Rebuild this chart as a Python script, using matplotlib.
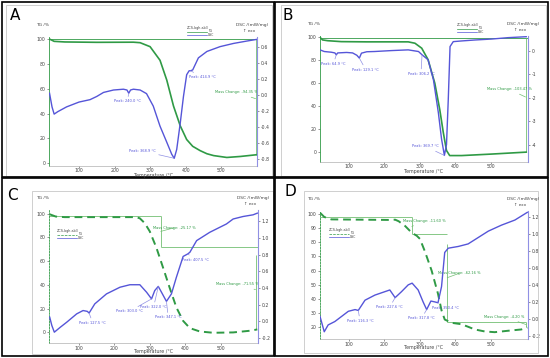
import matplotlib
matplotlib.use("Agg")
import matplotlib.pyplot as plt
from matplotlib.patches import Rectangle
from matplotlib.lines import Line2D

W, H = 550, 358
TG_GREEN = "#2f9a45"
DSC_BLUE = "#5555d8"
ANN_GREEN = "#72bf72"
ANN_BLUE = "#9090e4"
TXT_GRAY = "#444444"
LEGEND_NAME = "ZCS-bgh.ab3"

# ---- panel A: TG (%) and DSC (mW/mg) vs temperature (degC)
a_tg_t = [18, 30, 60, 150, 253, 272, 300, 328, 347, 366, 385, 403, 420, 441, 460, 479, 516, 554, 600]
a_tg = [100, 98.3, 97.8, 97.5, 97.6, 97.2, 94, 83, 67, 46, 30, 19, 13.5, 10, 7.5, 6, 4.5, 5.3, 6.7]
a_dsc_t = [17, 24, 30, 40, 65, 100, 131, 150, 169, 197, 225, 235, 240, 245, 253, 272, 290, 309, 328,
           347, 361, 368, 375, 385, 394, 403, 410, 414, 420, 436, 460, 497, 535, 573, 600]
a_dsc = [0.02, -0.15, -0.24, -0.21, -0.15, -0.09, -0.06, -0.02, 0.03, 0.06, 0.07, 0.06, 0.02, 0.06,
         0.07, 0.06, 0.015, -0.14, -0.39, -0.59, -0.74, -0.79, -0.68, -0.35, -0.02, 0.25, 0.30, 0.30,
         0.31, 0.46, 0.54, 0.60, 0.64, 0.67, 0.69]
a_peaks = ["Peak: 240.0 °C", "Peak: 368.9 °C", "Peak: 414.9 °C"]
a_mass = ["Mass Change: -94.35 %"]

# ---- panel B
b_tg_t = [18, 25, 40, 78, 150, 267, 286, 305, 323, 342, 356, 366, 375, 384, 418, 502, 600]
b_tg = [100, 97.7, 97.0, 96.2, 96.0, 96.0, 94.8, 90.5, 80.5, 60, 37, 17, 1.4, -3, -3, -1.7, 0]
b_dsc_t = [18, 30, 50, 60, 64, 68, 93, 110, 122, 129, 135, 150, 172, 220, 267, 296, 306, 323, 338,
           352, 361, 369, 375, 380, 385, 394, 418, 455, 502, 549, 600]
b_dsc = [0.03, -0.04, -0.07, -0.1, -0.18, -0.1, -0.08, -0.1, -0.2, -0.32, -0.11, -0.05, -0.04, 0.0,
         0.03, -0.04, -0.18, -0.39, -1.23, -2.64, -3.76, -4.46, -4.0, -2.08, 0.17, 0.38, 0.41, 0.45,
         0.49, 0.55, 0.59]
b_peaks = ["Peak: 64.9 °C", "Peak: 129.1 °C", "Peak: 306.2 °C", "Peak: 369.7 °C"]
b_mass = ["Mass Change: -103.47 %"]

# ---- panel C
c_tg_t = [18, 35, 60, 150, 262, 272, 286, 300, 319, 338, 356, 375, 394, 413, 441, 479, 535, 582, 603]
c_tg = [99.4, 97.5, 97, 97, 97, 96, 91.9, 85, 71, 54, 37.6, 21, 9.7, 3.6, 0.8, -0.3, 0, 1.4, 2.5]
c_dsc_t = [18, 24, 31, 48, 66, 94, 112, 124, 129, 145, 178, 216, 244, 272, 291, 305, 314, 324, 333,
           347, 361, 375, 394, 407, 413, 432, 469, 516, 535, 563, 591, 603]
c_dsc = [0.05, -0.05, -0.13, -0.07, -0.01, 0.09, 0.13, 0.12, 0.10, 0.21, 0.33, 0.41, 0.44, 0.44,
         0.35, 0.27, 0.37, 0.42, 0.35, 0.24, 0.33, 0.53, 0.78, 0.81, 0.83, 0.97, 1.07, 1.17, 1.23,
         1.26, 1.28, 1.30]
c_peaks = ["Peak: 127.5 °C", "Peak: 303.0 °C", "Peak: 322.0 °C", "Peak: 347.1 °C", "Peak: 407.5 °C"]
c_mass = ["Mass Change: -25.17 %", "Mass Change: -71.55 %"]

# ---- panel D
d_tg_t = [18, 30, 50, 220, 230, 240, 258, 277, 291, 300, 314, 333, 351, 361, 370, 389, 417, 436, 455,
          483, 511, 549, 586, 603]
d_tg = [100.7, 97.7, 96, 95.6, 95.8, 94.7, 91.4, 86.6, 84.5, 82.3, 73.5, 60, 43.7, 32, 25.6, 23.3,
        22.3, 20.5, 18.6, 17.2, 16.7, 17.7, 18.6, 20]
d_dsc_t = [18, 30, 41, 60, 79, 98, 117, 126, 145, 173, 201, 215, 230, 248, 267, 278, 295, 309, 319,
           331, 342, 351, 361, 370, 380, 408, 436, 455, 493, 530, 568, 603]
d_dsc = [0.03, -0.15, -0.07, -0.03, 0.03, 0.09, 0.11, 0.10, 0.22, 0.28, 0.32, 0.34, 0.25, 0.32, 0.40,
         0.42, 0.34, 0.20, 0.11, 0.21, 0.20, 0.19, 0.38, 0.78, 0.83, 0.85, 0.88, 0.93, 1.03, 1.10,
         1.16, 1.25]
d_peaks = ["Peak: 116.3 °C", "Peak: 227.6 °C", "Peak: 317.8 °C", "Peak: 350.4 °C"]
d_mass = ["Mass Change: -11.60 %", "Mass Change: -62.16 %", "Mass Change: -4.20 %"]

x_ticks = [100, 200, 300, 400, 500]


def fx(x):
    return x / W


def fy(y):
    return 1 - y / H


fig = plt.figure(figsize=(5.5, 3.58), dpi=100)


def rect_px(x0, y0, x1, y1, **kw):
    fig.add_artist(Rectangle((fx(x0), fy(y1)), (x1 - x0) / W, (y1 - y0) / H,
                             transform=fig.transFigure, fill=False, **kw))


def legend_px(x, y, dashed):
    # tiny instrument legend: file name, then TG and DSC entries
    fig.text(fx(x), fy(y), LEGEND_NAME, fontsize=2.4, color=TXT_GRAY, va="center")
    fig.add_artist(Line2D([fx(x), fx(x + 20)], [fy(y + 3.5)] * 2, color=TG_GREEN, lw=0.5,
                          ls="--" if dashed else "-", transform=fig.transFigure))
    fig.text(fx(x + 21), fy(y + 3.0), "TG", fontsize=2.2, color=TXT_GRAY, va="center")
    fig.add_artist(Line2D([fx(x), fx(x + 20)], [fy(y + 6.5)] * 2, color=DSC_BLUE, lw=0.5,
                          transform=fig.transFigure))
    fig.text(fx(x + 21), fy(y + 6.8), "DSC", fontsize=2.2, color=TXT_GRAY, va="center")


def panel(letter, box, frame, letter_xy, axbox, xlim, tg_lim, dsc_lim, tg_ticks, dsc_ticks,
          dsc_fmt, dashed, tg_t, tg, dsc_t, dsc):
    rect_px(*frame, ec="#c8c8c8", lw=0.6)
    rect_px(*box, ec="black", lw=1.2)
    fig.text(fx(letter_xy[0]), fy(letter_xy[1]), letter, fontsize=11, ha="center", va="center")

    l, t, r, b = axbox
    ax = fig.add_axes([fx(l), fy(b), (r - l) / W, (b - t) / H])
    ax2 = ax.twinx()
    ax.patch.set_alpha(0)

    ax.plot(tg_t, tg, color=TG_GREEN, lw=1.4 if dashed else 1.2,
            ls=(0, (4, 2.5)) if dashed else "-", zorder=3)
    ax2.plot(dsc_t, dsc, color=DSC_BLUE, lw=1.0, zorder=3)

    ax.set_xlim(*xlim)
    ax.set_ylim(*tg_lim)
    ax2.set_ylim(*dsc_lim)
    ax.set_xticks(x_ticks)
    ax.set_yticks(tg_ticks)
    ax2.set_yticks(dsc_ticks)
    ax2.set_yticklabels([dsc_fmt % v for v in dsc_ticks])

    for a in (ax, ax2):
        a.tick_params(labelsize=3.3, length=1.2, width=0.4, pad=1.2, colors=TXT_GRAY)
        a.spines["top"].set_visible(False)
    ax.tick_params(axis="x", pad=0.6)
    ax.spines["right"].set_visible(False)
    ax2.spines["left"].set_visible(False)
    ax2.spines["bottom"].set_visible(False)
    ax.spines["left"].set_color(TG_GREEN)
    ax.spines["left"].set_linewidth(0.6)
    if dashed:
        ax.spines["left"].set_linestyle((0, (2, 1.5)))
    ax2.spines["right"].set_color(ANN_BLUE)
    ax2.spines["right"].set_linewidth(0.8)
    ax.spines["bottom"].set_color("#b0b0b0")
    ax.spines["bottom"].set_linewidth(0.5)

    fig.text(fx(l - 6), fy(t - 12), "TG /%", fontsize=3.2, color=TXT_GRAY, ha="center", va="center")
    fig.text(fx(r - 5), fy(t - 12), "DSC /(mW/mg)", fontsize=3.2, color=TXT_GRAY,
             ha="center", va="center")
    fig.text(fx(r - 8), fy(t - 6), "↑ exo", fontsize=3.0, color=TXT_GRAY, ha="center", va="center")
    fig.text(fx((l + r) / 2), fy(b + 9), "Temperature /°C", fontsize=3.4, color=TXT_GRAY,
             ha="center", va="center")
    return ax, ax2


def peak(ax2, label, target, text_at):
    ax2.annotate(label, xy=target, xytext=text_at, fontsize=2.6, color=DSC_BLUE,
                 ha="center", va="center", zorder=4,
                 arrowprops=dict(arrowstyle="-", color=ANN_BLUE, lw=0.5, shrinkA=0, shrinkB=0))


def mass(ax, label, target, text_at):
    ax.annotate(label, xy=target, xytext=text_at, fontsize=2.6, color=TG_GREEN,
                ha="center", va="center", zorder=4,
                arrowprops=dict(arrowstyle="-", color=ANN_GREEN, lw=0.5, shrinkA=0, shrinkB=0))


# Panel A
ax, ax2 = panel("A", (2, 2, 274, 177), (6, 5, 272, 176), (15.5, 15.5), (49, 37, 257, 166),
                (15.5, 601), (-2.4, 101.8), (-0.886, 0.72), [0, 20, 40, 60, 80, 100],
                [-0.8, -0.6, -0.4, -0.2, 0.0, 0.2, 0.4, 0.6], "%.1f", False,
                a_tg_t, a_tg, a_dsc_t, a_dsc)
ax.axhline(100, color=TG_GREEN, lw=0.6, zorder=2)
ax.vlines(597, 6.7, 100, color=ANN_GREEN, lw=0.6)
peak(ax2, a_peaks[0], (240, 0.02), (236, -0.08))
peak(ax2, a_peaks[1], (368, -0.79), (279, -0.70))
peak(ax2, a_peaks[2], (414, 0.30), (447, 0.22))
mass(ax, a_mass[0], (597, 52), (543, 57))
legend_px(187, 28, False)

# Panel B
ax, ax2 = panel("B", (275, 2, 548, 177), (281, 5, 546, 176), (287.5, 15.5), (320, 36, 528, 162),
                (18, 605), (-8.6, 101.1), (-4.74, 0.62), [0, 20, 40, 60, 80, 100],
                [-4, -3, -2, -1, 0], "%d", False,
                b_tg_t, b_tg, b_dsc_t, b_dsc)
ax.axhline(99.5, color=TG_GREEN, lw=0.6, zorder=2)
ax.vlines(598, 0, 99.5, color=ANN_GREEN, lw=0.6)
peak(ax2, b_peaks[0], (64, -0.18), (56, -0.56))
peak(ax2, b_peaks[1], (129, -0.32), (147, -0.81))
peak(ax2, b_peaks[2], (306, -0.18), (303, -0.98))
peak(ax2, b_peaks[3], (369, -4.46), (316, -4.08))
mass(ax, b_mass[0], (598, 48), (552, 54.6))
legend_px(457, 25, False)

# Panel C
ax, ax2 = panel("C", (2, 178, 274, 356), (32, 191, 273, 354), (12.5, 196), (49, 210, 258, 343),
                (16, 605), (-8.9, 103), (-0.26, 1.338), [0, 20, 40, 60, 80, 100],
                [-0.2, 0.0, 0.2, 0.4, 0.6, 0.8, 1.0, 1.2], "%.1f", True,
                c_tg_t, c_tg, c_dsc_t, c_dsc)
ax.hlines(98, 16, 331, color=ANN_GREEN, lw=0.6)
ax.vlines(331, 72, 98, color=ANN_GREEN, lw=0.6)
ax.hlines(72, 331, 605, color=ANN_GREEN, lw=0.6)
ax.vlines(598, 2.8, 65, color=ANN_GREEN, lw=0.6)
mass(ax, c_mass[0], (331, 85), (368, 88))
mass(ax, c_mass[1], (598, 36), (548, 40.4))
peak(ax2, c_peaks[0], (129, 0.10), (139, -0.016))
peak(ax2, c_peaks[1], (305, 0.27), (243, 0.12))
peak(ax2, c_peaks[2], (324, 0.42), (311, 0.175))
peak(ax2, c_peaks[3], (347, 0.24), (352, 0.05))
peak(ax2, c_peaks[4], (407, 0.81), (430, 0.74))
legend_px(57, 231, True)

# Panel D
ax, ax2 = panel("D", (275, 178, 548, 356), (304, 191, 538, 353), (290.5, 192), (320, 211, 528, 339),
                (18, 605), (11.9, 101.9), (-0.235, 1.266), [20, 30, 40, 50, 60, 70, 80, 90, 100],
                [-0.2, 0.0, 0.2, 0.4, 0.6, 0.8, 1.0, 1.2], "%.1f", True,
                d_tg_t, d_tg, d_dsc_t, d_dsc)
ax.hlines(97.9, 18, 277, color=ANN_GREEN, lw=0.6)
ax.vlines(277, 86, 97.9, color=ANN_GREEN, lw=0.6)
ax.hlines(86, 277, 377, color=ANN_GREEN, lw=0.6)
ax.vlines(377, 24, 79, color=ANN_GREEN, lw=0.6)
ax.hlines(24, 377, 600, color=ANN_GREEN, lw=0.6)
ax.vlines(600, 20, 24, color=ANN_GREEN, lw=0.6)
mass(ax, d_mass[0], (277, 91), (311, 94.9))
mass(ax, d_mass[1], (377, 55), (410, 58))
mass(ax, d_mass[2], (600, 22), (539, 27.4))
peak(ax2, d_peaks[0], (126, 0.10), (131, -0.02))
peak(ax2, d_peaks[1], (230, 0.25), (215, 0.14))
peak(ax2, d_peaks[2], (319, 0.11), (305, 0.01))
peak(ax2, d_peaks[3], (351, 0.19), (372, 0.13))
legend_px(329, 230, True)

fig.savefig("out.png", dpi=100)
